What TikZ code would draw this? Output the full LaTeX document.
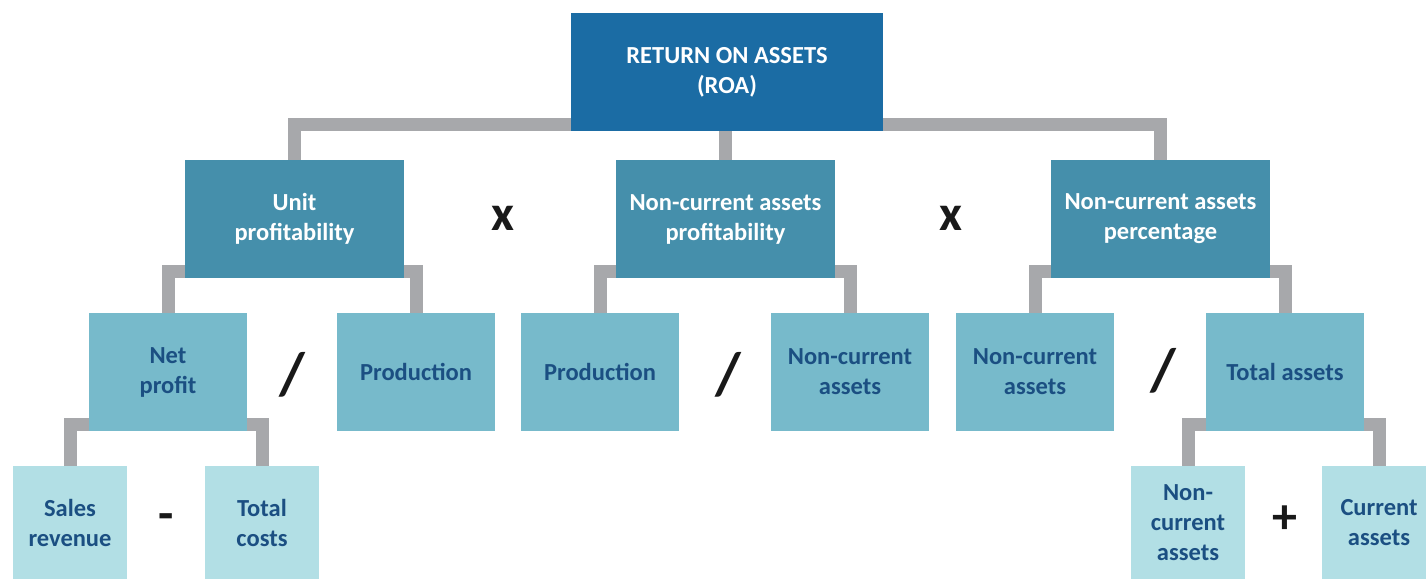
\documentclass[tikz,border=0pt]{standalone}
\usepackage{fontspec}
\setmainfont{Carlito}
\usetikzlibrary{calc}
\usetikzlibrary{backgrounds}
\definecolor{roablue}{HTML}{1B6CA4}
\definecolor{midteal}{HTML}{458FAB}
\definecolor{lightteal}{HTML}{77BACB}
\definecolor{paleteal}{HTML}{B2DFE5}
\definecolor{linkgray}{HTML}{A7A8AB}
\definecolor{textblue}{HTML}{1B4F82}

\begin{document}
\begin{tikzpicture}[x=1pt,y=-1pt,
		box/.style={rectangle,inner sep=0pt,align=center,font=\bfseries\fontsize{24.5}{30}\selectfont},
		rootnode/.style={box,fill=roablue,text=white,minimum width=312pt,minimum height=118pt},
		ratnode/.style={box,fill=midteal,text=white,minimum width=219pt,minimum height=118pt},
		pnode/.style={box,fill=lightteal,text=textblue,minimum width=158pt,minimum height=118pt},
		pleaf/.style={box,fill=paleteal,text=textblue,minimum width=114pt,minimum height=113pt},
		op/.style={inner sep=0pt,font=\bfseries\fontsize{50}{50}\selectfont,text=black!90},
		divop/.style={op,font=\bfseries\fontsize{60}{60}\selectfont},
		link/.style={draw=linkgray,line width=13pt,line join=miter}
		]
		\useasboundingbox (0,0) rectangle (1426,579);
		\clip (0,0) rectangle (1426,579);
		% ratio tree
		\node (roa) [rootnode] at (727,72) {RETURN ON ASSETS\\(ROA)};
		\node (u) [ratnode] at (294.5,219) {Unit\\profitability};
		\node (p) [ratnode] at (725.5,219) {Non-current assets\\profitability};
		\node (q) [ratnode] at (1160.5,219) {Non-current assets\\percentage};
		\node (a) [pnode] at (168,372) {Net\\profit};
		\node (b) [pnode] at (416,372) {Production};
		\node (c) [pnode] at (600,372) {Production};
		\node (d) [pnode] at (850,372) {Non-current\\assets};
		\node (e) [pnode] at (1035,372) {Non-current\\assets};
		\node (f) [pnode] at (1285,372) {Total assets};
		\node (g) [pleaf] at (70,522.5) {Sales\\revenue};
		\node (h) [pleaf] at (262,522.5) {Total\\costs};
		\node (k) [pleaf] at (1188,522.5) {Non-\\current\\assets};
		\node (l) [pleaf] at (1379,522.5) {Current\\assets};
		% operators
		\node (x1) [op] at (503,218) {x};
		\node (x2) [op] at (951,218) {x};
		\node (s1) [divop] at (292,375) {/};
		\node (s2) [divop] at (728,375) {/};
		\node (s3) [divop] at (1163,371) {/};
		\node (m1) [op] at (166,522) {-};
		\node (p1) [op] at (1285,520) {+};
		% connectors
		\begin{scope}[on background layer]
			\draw[link] (u.north) |- ($(roa.south)+(0,-6.5)$) -| (q.north);
			\draw[link] (roa.south -| p.north) -- (p.north);
			\draw[link] ($(u.south)+(0,-6.5)$) -| (a.north);
			\draw[link] ($(u.south)+(0,-6.5)$) -| (b.north);
			\draw[link] ($(p.south)+(0,-6.5)$) -| (c.north);
			\draw[link] ($(p.south)+(0,-6.5)$) -| (d.north);
			\draw[link] ($(q.south)+(0,-6.5)$) -| (e.north);
			\draw[link] ($(q.south)+(0,-6.5)$) -| (f.north);
			\draw[link] ($(a.south)+(0,-6.5)$) -| (g.north);
			\draw[link] ($(a.south)+(0,-6.5)$) -| (h.north);
			\draw[link] ($(f.south)+(0,-6.5)$) -| (k.north);
			\draw[link] ($(f.south)+(0,-6.5)$) -| (l.north);
		\end{scope}
\end{tikzpicture}
\end{document}
